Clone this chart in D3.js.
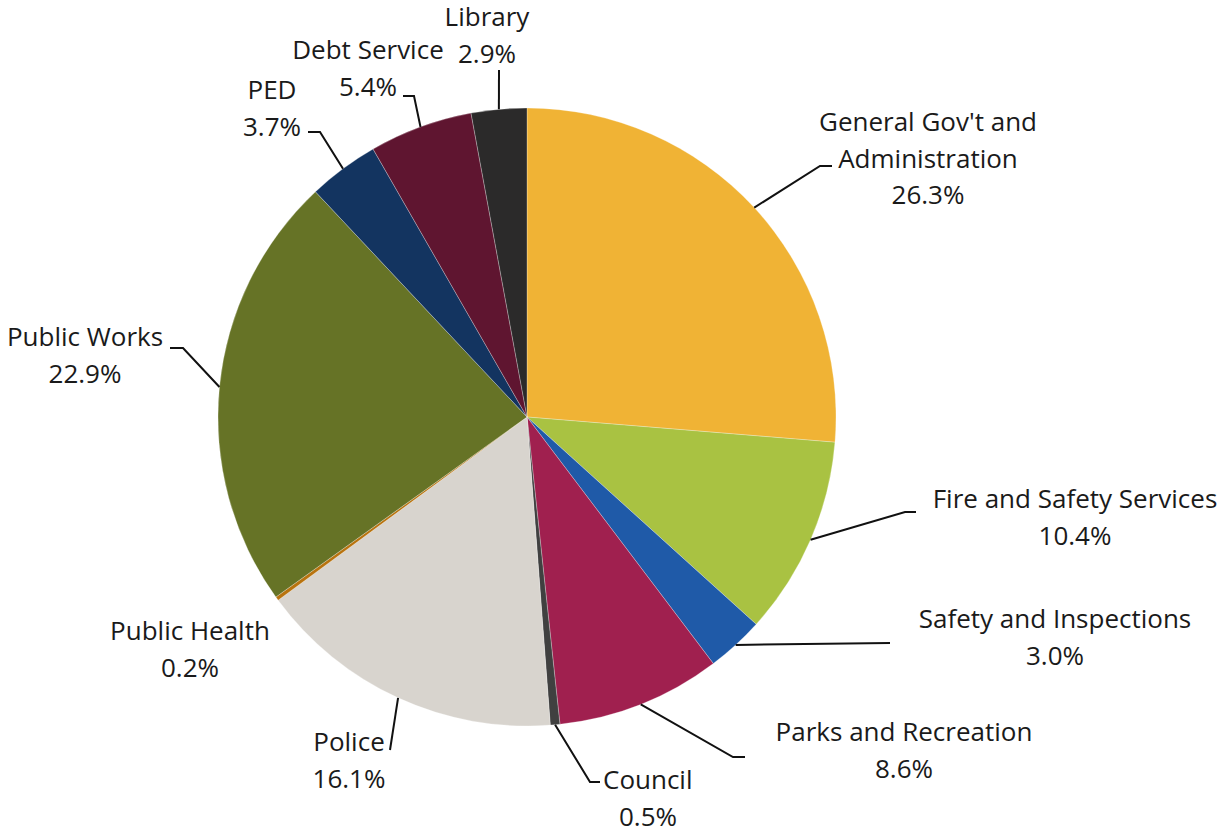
<!DOCTYPE html>
<html>
<head>
<meta charset="utf-8">
<script src="https://cdn.jsdelivr.net/npm/d3@7"></script>
<style>
  body { margin: 0; background: #fff; }
  svg { display: block; font-family: "Open Sans", sans-serif; }
</style>
</head>
<body>
<svg id="chart"></svg>
<script>
const categories = ["General Gov't and Administration", "Fire and Safety Services", "Safety and Inspections",
  "Parks and Recreation", "Council", "Police", "Public Health", "Public Works", "PED", "Debt Service", "Library"]
const values = [26.3, 10.4, 3.0, 8.6, 0.5, 16.1, 0.2, 22.9, 3.7, 5.4, 2.9]
const labelLines = [["General Gov't and", "Administration"], ["Fire and Safety Services"], ["Safety and Inspections"],
  ["Parks and Recreation"], ["Council"], ["Police"], ["Public Health"], ["Public Works"], ["PED"], ["Debt Service"], ["Library"]]
const colors = ["#F0B335", "#A9C242", "#1F5AA8", "#A0204F", "#404040", "#D8D4CE", "#B8730F", "#667326", "#133460", "#5F1530", "#2B2A2A"]

// label layout: text centre x, first line centre y, leader elbow and end
const layout = [
  { x: 928, y: 122, elbow: [820, 166], end: [832, 166] },
  { x: 1075, y: 499, elbow: [905, 512], end: [916, 512] },
  { x: 1055, y: 619, elbow: [890, 643], end: [890, 643] },
  { x: 904, y: 732, elbow: [733, 757], end: [745, 757] },
  { x: 648, y: 780, elbow: [590, 782], end: [600, 782], firstX: 603 },
  { x: 349, y: 742, elbow: [390, 750], end: [390, 750] },
  { x: 190, y: 631, elbow: null, end: null },
  { x: 85, y: 337, elbow: [183, 348], end: [170, 348] },
  { x: 272, y: 90, elbow: [320, 132], end: [308, 132] },
  { x: 368, y: 50, elbow: [414, 96], end: [403, 96] },
  { x: 487, y: 17, elbow: [499, 70], end: [499, 70] }
]

const width = 1222
const height = 829
const cx = 527
const cy = 417
const radius = 309
const lineHeight = 36.5

const svg = d3.select("#chart").attr("width", width).attr("height", height)
const g = svg.append("g").attr("transform", "translate(" + cx + "," + cy + ")")

const pie = d3.pie().sort(null).value((d, i) => values[i])
const arcs = pie(categories)

const arc = d3.arc().innerRadius(0).outerRadius(radius)
const edge = d3.arc().innerRadius(radius).outerRadius(radius)

g.selectAll("path.slice")
  .data(arcs)
  .enter()
  .append("path")
  .attr("class", "slice")
  .attr("d", arc)
  .attr("fill", (d, i) => colors[i])
  .attr("stroke", "rgba(255,255,255,0.45)")
  .attr("stroke-width", 0.6)

// leader lines
arcs.forEach((d, i) => {
  const l = layout[i]
  if (!l.elbow) return
  const p = edge.centroid(d)
  const pts = [[p[0] + cx, p[1] + cy], l.elbow, l.end]
  svg.append("path")
    .attr("d", d3.line()(pts))
    .attr("fill", "none")
    .attr("stroke", "#111")
    .attr("stroke-width", 2)
})

// labels
arcs.forEach((d, i) => {
  const l = layout[i]
  const lines = labelLines[i].concat([values[i].toFixed(1) + "%"])
  const t = svg.append("text")
    .attr("fill", "#1a1a1a")
    .attr("font-size", 26)
  lines.forEach((s, j) => {
    const ts = t.append("tspan")
      .attr("y", l.y + j * lineHeight)
      .attr("dy", "0.35em")
      .text(s)
    if (j === 0 && l.firstX) {
      ts.attr("x", l.firstX).attr("text-anchor", "start")
    } else {
      ts.attr("x", l.x).attr("text-anchor", "middle")
    }
  })
})
</script>
</body>
</html>
